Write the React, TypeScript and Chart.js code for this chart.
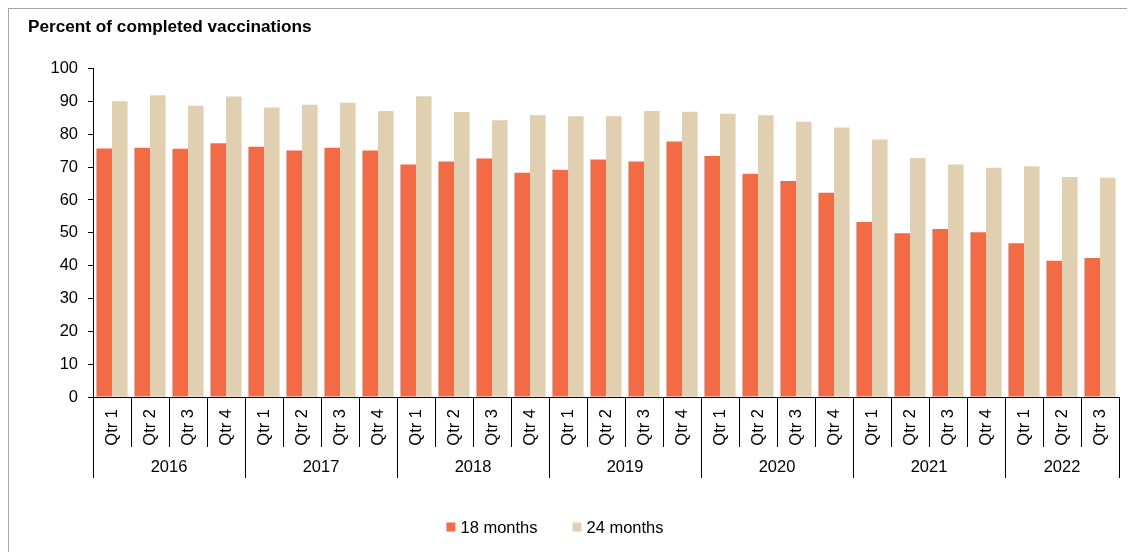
import React, { useEffect, useRef } from "react";
import { Chart, registerables } from "chart.js";

Chart.register(...registerables);

const quarterLabels = [
  "Qtr 1", "Qtr 2", "Qtr 3", "Qtr 4",
  "Qtr 1", "Qtr 2", "Qtr 3", "Qtr 4",
  "Qtr 1", "Qtr 2", "Qtr 3", "Qtr 4",
  "Qtr 1", "Qtr 2", "Qtr 3", "Qtr 4",
  "Qtr 1", "Qtr 2", "Qtr 3", "Qtr 4",
  "Qtr 1", "Qtr 2", "Qtr 3", "Qtr 4",
  "Qtr 1", "Qtr 2", "Qtr 3",
];

const years = ["2016", "2017", "2018", "2019", "2020", "2021", "2022"];
const quartersPerYear = [4, 4, 4, 4, 4, 4, 3];

const months18 = [
  75.7, 75.9, 75.6, 77.3,
  76.2, 75.1, 75.9, 75.1,
  70.8, 71.7, 72.6, 68.3,
  69.2, 72.3, 71.7, 77.8,
  73.4, 68.0, 65.8, 62.2,
  53.3, 49.9, 51.2, 50.2,
  46.8, 41.5, 42.3,
];

const months24 = [
  90.1, 91.9, 88.7, 91.5,
  88.2, 89.0, 89.6, 87.1,
  91.6, 86.8, 84.3, 85.8,
  85.5, 85.5, 87.1, 86.9,
  86.3, 85.8, 83.8, 82.1,
  78.4, 72.8, 70.8, 69.8,
  70.3, 67.0, 66.8,
];

const seriesNames = ["18 months", "24 months"];
const seriesColors = ["#F26B45", "#E0CFB1"];

const FONT = '"Liberation Sans", Arial, sans-serif';

const groupPlugin = {
  id: "groupPlugin",
  afterDraw(chart: any) {
    const ctx = chart.ctx;
    const x = chart.scales.x;
    const bottom = chart.chartArea.bottom;
    const step = x.getPixelForValue(1) - x.getPixelForValue(0);
    const edge = (i: number) => x.getPixelForValue(i) - step / 2;
    const yearStarts: number[] = [0];
    quartersPerYear.forEach((n, k) => yearStarts.push(yearStarts[k] + n));
    ctx.save();
    ctx.strokeStyle = "#000";
    ctx.lineWidth = 1;
    for (let i = 0; i <= quarterLabels.length; i++) {
      const px = Math.round(edge(i)) + 0.5;
      const isYear = yearStarts.includes(i);
      ctx.beginPath();
      ctx.moveTo(px, bottom);
      ctx.lineTo(px, bottom + (isYear ? 81 : 50));
      ctx.stroke();
    }
    ctx.fillStyle = "#000";
    ctx.font = `16.5px ${FONT}`;
    ctx.textAlign = "center";
    ctx.textBaseline = "middle";
    years.forEach((yr, k) => {
      const cx = (edge(yearStarts[k]) + edge(yearStarts[k + 1])) / 2;
      ctx.fillText(yr, cx, bottom + 70);
    });
    // legend
    const legendY = 518;
    const box = 9;
    const gapBoxText = 5;
    const gapItems = 35;
    const widths = seriesNames.map((s) => ctx.measureText(s).width);
    const total = widths.reduce((a, w) => a + box + gapBoxText + w, 0) + gapItems * (seriesNames.length - 1);
    let lx = 546 - total / 2;
    ctx.textAlign = "left";
    seriesNames.forEach((s, k) => {
      ctx.fillStyle = seriesColors[k];
      ctx.fillRect(lx, legendY - box / 2, box, box);
      ctx.fillStyle = "#000";
      ctx.fillText(s, lx + box + gapBoxText, legendY + 1);
      lx += box + gapBoxText + widths[k] + gapItems;
    });
    ctx.restore();
  },
};

export default function App() {
  const ref = useRef<HTMLCanvasElement>(null);
  useEffect(() => {
    if (!ref.current) return;
    Chart.defaults.font.family = FONT;
    Chart.defaults.color = "#000";
    const chart = new Chart(ref.current, {
      type: "bar",
      data: {
        labels: quarterLabels,
        datasets: [
          {
            label: seriesNames[0],
            data: months18,
            backgroundColor: seriesColors[0],
            categoryPercentage: 0.82,
            barPercentage: 1,
          },
          {
            label: seriesNames[1],
            data: months24,
            backgroundColor: seriesColors[1],
            categoryPercentage: 0.82,
            barPercentage: 1,
          },
        ],
      },
      options: {
        responsive: false,
        animation: false,
        layout: { padding: { left: 19, right: 16, top: 0, bottom: 0 } },
        plugins: {
          legend: { display: false },
          tooltip: { enabled: false },
          title: {
            display: true,
            text: "Percent of completed vaccinations",
            align: "start",
            color: "#000",
            font: { size: 17.2, weight: "bold", family: FONT },
            padding: { top: 7.6, bottom: 31.4 },
          },
        },
        scales: {
          x: {
            type: "category",
            offset: true,
            grid: { display: false },
            border: { display: true, color: "#000", width: 1 },
            ticks: {
              autoSkip: false,
              minRotation: 90,
              maxRotation: 90,
              padding: 4,
              color: "#000",
              font: { size: 16.5, family: FONT },
            },
            afterFit: (scale: any) => {
              scale.height = 155;
            },
          },
          y: {
            min: 0,
            max: 100,
            ticks: {
              stepSize: 10,
              padding: 10,
              color: "#000",
              font: { size: 16.5, family: FONT },
            },
            grid: { drawOnChartArea: false, drawTicks: true, tickLength: 5, color: "#000" },
            border: { display: true, color: "#000", width: 1 },
            afterFit: (scale: any) => {
              scale.width = 65;
            },
          },
        },
      },
      plugins: [groupPlugin],
    } as any);
    return () => chart.destroy();
  }, []);

  return (
    <div
      style={{
        width: 1126,
        height: 543,
        borderTop: "1px solid #a6a6a6",
        borderLeft: "1px solid #a6a6a6",
        overflow: "hidden",
      }}
    >
      <canvas ref={ref} width={1126} height={543} style={{ display: "block" }} />
    </div>
  );
}
